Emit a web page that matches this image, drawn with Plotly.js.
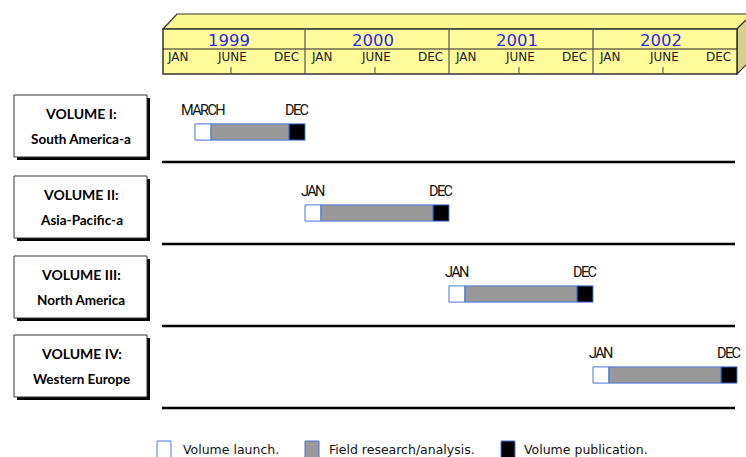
<!DOCTYPE html>
<html><head><meta charset="utf-8">
<script src="https://cdn.plot.ly/plotly-3.0.1.min.js"></script>
<style>html,body{margin:0;padding:0;background:#fff}#chart{width:746px;height:457px}</style>
</head><body><div id="chart"></div>
<script>
// ---- data ----
const years = ["1999", "2000", "2001", "2002"];
const monthLabels = ["JAN", "JUNE", "DEC"];
const volumeTitles = ["VOLUME I:", "VOLUME II:", "VOLUME III:", "VOLUME IV:"];
const volumeRegions = ["South America-a", "Asia-Pacific-a", "North America", "Western Europe"];
// months counted from JAN 1999 = 0
const launchStart = [2.83, 12, 24, 36];
const researchStart = [4.17, 13.33, 25.33, 37.33];
const publicationStart = [10.67, 22.67, 34.67, 46.67];
const projectEnd = [12, 24, 36, 48];
const startLabels = ["MARCH", "JAN", "JAN", "JAN"];
const endLabels = ["DEC", "DEC", "DEC", "DEC"];
const legendLabels = ["Volume launch.", "Field research/analysis.", "Volume publication."];

// ---- layout helpers ----
const W = 746, H = 457, X0 = 161;
const X = p => p / W;
const Y = p => 1 - p / H;
const rowIdx = volumeTitles.map((_, i) => i);
const blueEdge = "#4b72d9";
const barFill = ["#ffffff", "#999999", "#000000"];

const mkBar = (name, base, end, fill) => ({
  type: "bar", orientation: "h", name: name,
  y: rowIdx, base: base, x: base.map((b, i) => end[i] - b),
  width: 0.2,
  marker: {color: fill, line: {color: blueEdge, width: 1}},
  hoverinfo: "skip", showlegend: false
});
const traces = [
  mkBar(legendLabels[0], launchStart, researchStart, barFill[0]),
  mkBar(legendLabels[1], researchStart, publicationStart, barFill[1]),
  mkBar(legendLabels[2], publicationStart, projectEnd, barFill[2])
];

const shapes = [];
const ann = [];
const edge = "#333333";
const tight = s => '<span style="letter-spacing:-1.6px">' + s + '</span>';
// header 3D box
shapes.push({type: "path", xref: "paper", yref: "paper",
  path: `M ${X(163)} ${Y(29)} L ${X(177)} ${Y(14)} L ${X(752)} ${Y(14)} L ${X(737)} ${Y(29)} Z`,
  fillcolor: "#fcf890", line: {color: edge, width: 1.2}});
shapes.push({type: "path", xref: "paper", yref: "paper",
  path: `M ${X(737)} ${Y(29)} L ${X(752)} ${Y(14)} L ${X(752)} ${Y(59)} L ${X(737)} ${Y(74)} Z`,
  fillcolor: "#d6d088", line: {color: edge, width: 1.2}});
shapes.push({type: "rect", xref: "paper", yref: "paper",
  x0: X(163), x1: X(737), y0: Y(74), y1: Y(29),
  fillcolor: "#fffb9a", line: {color: edge, width: 1.5}});
shapes.push({type: "line", xref: "paper", yref: "paper",
  x0: X(163), x1: X(737), y0: Y(49), y1: Y(49), line: {color: "#222", width: 1.2}});
years.forEach((yr, k) => {
  const s = k * 12;
  if (k > 0) shapes.push({type: "line", xref: "x", yref: "paper",
    x0: s, x1: s, y0: Y(29), y1: Y(74), line: {color: "#555", width: 1.2}});
  shapes.push({type: "line", xref: "x", yref: "paper",
    x0: s + 5.83, x1: s + 5.83, y0: Y(67), y1: Y(74), line: {color: "#444", width: 1}});
  ann.push({xref: "x", yref: "paper", x: s + 5.67, y: Y(40), text: yr, showarrow: false,
    font: {family: "DejaVu Sans", size: 16.5, color: "#2a2ae8"}, xanchor: "center", yanchor: "middle"});
  [1.42, 5.88, 10.46].forEach((m, j) => ann.push({xref: "x", yref: "paper", x: s + m, y: Y(57),
    text: monthLabels[j], showarrow: false,
    font: {family: "DejaVu Sans", size: 12, color: "#222"}, xanchor: "center", yanchor: "middle"}));
});

// left boxes and separators
const boxTop = [95, 176, 256, 335];
const sepY = [162, 244, 326, 408];
volumeTitles.forEach((t, i) => {
  const t0 = boxTop[i], b0 = t0 + 62;
  shapes.push({type: "rect", xref: "paper", yref: "paper",
    x0: X(17), x1: X(150), y0: Y(b0 + 3), y1: Y(t0 + 3), fillcolor: "#000", line: {width: 0}});
  shapes.push({type: "rect", xref: "paper", yref: "paper",
    x0: X(14), x1: X(147), y0: Y(b0), y1: Y(t0), fillcolor: "#fff", line: {color: edge, width: 1}});
  ann.push({xref: "paper", yref: "paper", x: X(81), y: Y(t0 + 18), text: "<b>" + t + "</b>",
    showarrow: false, font: {family: "Lato", size: 14, color: "#000"}, xanchor: "center", yanchor: "middle"});
  ann.push({xref: "paper", yref: "paper", x: X(81), y: Y(t0 + 44), text: "<b>" + volumeRegions[i] + "</b>",
    showarrow: false, font: {family: "Lato", size: 13.5, color: "#000"}, xanchor: "center", yanchor: "middle"});
  shapes.push({type: "line", xref: "paper", yref: "paper",
    x0: X(162), x1: X(735), y0: Y(sepY[i]), y1: Y(sepY[i]), line: {color: "#000", width: 2.5}});
  // bar labels
  ann.push({xref: "x", yref: "y", x: (launchStart[i] + researchStart[i]) / 2, y: i - 0.27,
    text: tight(startLabels[i]), showarrow: false,
    font: {family: "Roboto", size: 14.5, color: "#111"}, xanchor: "center", yanchor: "middle"});
  ann.push({xref: "x", yref: "y", x: (publicationStart[i] + projectEnd[i]) / 2, y: i - 0.27,
    text: tight(endLabels[i]), showarrow: false,
    font: {family: "Roboto", size: 14.5, color: "#111"}, xanchor: "center", yanchor: "middle"});
});

// legend
const legBox = [157, 305, 501];
const legText = [181, 327, 522];
legendLabels.forEach((l, k) => {
  shapes.push({type: "rect", xref: "paper", yref: "paper",
    x0: X(legBox[k]), x1: X(legBox[k] + 14), y0: Y(458), y1: Y(441),
    fillcolor: barFill[k], line: {color: blueEdge, width: 1}});
  ann.push({xref: "paper", yref: "paper", x: X(legText[k]), y: Y(449.5), text: l, showarrow: false,
    font: {family: "DejaVu Sans", size: 12.5, color: "#111"}, xanchor: "left", yanchor: "middle"});
});

const layout = {
  width: W, height: H, margin: {l: 0, r: 0, t: 0, b: 0},
  paper_bgcolor: "#fff", plot_bgcolor: "rgba(0,0,0,0)",
  barmode: "overlay", showlegend: false,
  xaxis: {range: [-X0 / 12, (W - X0) / 12], showgrid: false, zeroline: false, showticklabels: false, ticks: "", fixedrange: true},
  yaxis: {range: [(457 - 132) / 81, -132 / 81], showgrid: false, zeroline: false, showticklabels: false, ticks: "", fixedrange: true},
  shapes: shapes, annotations: ann
};
Plotly.newPlot("chart", traces, layout, {displayModeBar: false, staticPlot: true});
</script></body></html>
